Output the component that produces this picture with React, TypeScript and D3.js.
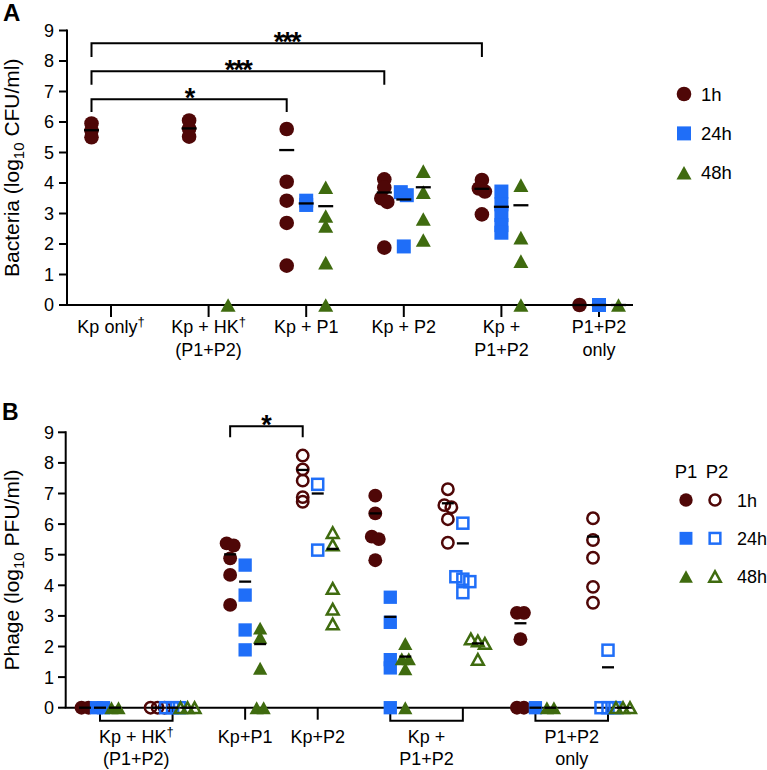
import React from "react";
import * as d3 from "d3";

const FONT = "'Liberation Sans', Arial, Helvetica, sans-serif";
const C1 = "#4f0707";
const C24 = "#1f6ef8";
const C48 = "#3f6b0f";

// ---------- Panel A data (log10 CFU/ml) ----------
const catsA = ["Kp only", "Kp + HK", "Kp + P1", "Kp + P2", "Kp + P1+P2", "P1+P2 only"];
const labelsA = [["Kp only†"], ["Kp + HK†", "(P1+P2)"], ["Kp + P1"], ["Kp + P2"], ["Kp +", "P1+P2"], ["P1+P2", "only"]];
const a1h = [[5.95, 5.72, 5.5], [6.05, 5.78, 5.52], [5.77, 4.04, 3.42, 2.69, 1.29], [4.12, 3.85, 3.5, 3.38, 1.88], [4.1, 3.82, 3.72, 2.97], [0]];
const a24h = [[], [], [3.42, 3.28], [3.7, 3.6, 1.92], [3.72, 3.3, 2.95, 2.62, 2.37], [0]];
const a48h = [[], [0], [3.86, 2.92, 2.59, 1.39, 0], [4.39, 3.7, 2.82, 2.13], [3.93, 2.21, 1.44, 0], [0]];
const a1hLine = [5.73, 5.79, 5.08, 3.69, 3.81, 0];
const a24hLine = [null, null, 3.33, 3.46, 3.22, 0];
const a48hLine = [null, null, 3.24, 3.86, 3.27, 0];
const yTicks = [0, 1, 2, 3, 4, 5, 6, 7, 8, 9];
const legendA = ["1h", "24h", "48h"];
// significance brackets A: [fromCategory, toCategory, level, drop, label]
const sigA: [number, number, number, number, string][] = [
  [0, 2, 6.75, 6.33, "*"],
  [0, 3, 7.66, 7.22, "***"],
  [0, 4, 8.58, 8.13, "***"],
];

// ---------- Panel B data (log10 PFU/ml) ----------
const catsB = ["Kp + HK (P1+P2)", "Kp+P1", "Kp+P2", "Kp + P1+P2", "P1+P2 only"];
const labelsB = [["Kp + HK†", "(P1+P2)"], ["Kp+P1"], ["Kp+P2"], ["Kp +", "P1+P2"], ["P1+P2", "only"]];
const slotP1 = [0, 2, null, 4, 6];
const slotP2 = [1, null, 3, 5, 7];
const b1hP1 = [[0, 0], [5.37, 5.3, 4.88, 4.34, 3.36], null, [6.93, 6.35, 5.59, 5.51, 4.82], [3.1, 3.1, 2.24, 0, 0]];
const b24hP1 = [[0, 0], [4.66, 3.68, 2.54, 1.89], null, [3.61, 2.79, 1.57, 1.3, 0], [0]];
const b48hP1 = [[0, 0], [2.6, 2.3, 1.29, 0, 0], null, [2.1, 1.6, 1.6, 1.27, 0], [0, 0]];
const b1hP2 = [[0, 0, 0], null, [8.24, 7.79, 7.42, 6.88, 6.73], [7.14, 6.62, 6.55, 6.16, 5.39], [6.19, 5.48, 4.9, 3.95, 3.43]];
const b24hP2 = [[0, 0, 0], null, [7.3, 5.15], [6.03, 4.28, 4.2, 4.12, 3.76], [1.88, 0, 0, 0]];
const b48hP2 = [[0, 0, 0], null, [5.72, 5.32, 3.9, 3.22, 2.74], [2.25, 2.18, 2.1, 1.58], [0, 0, 0]];
const b1hP1Line = [0, 5.01, null, 6.35, 2.76];
const b24hP1Line = [0, 4.12, null, 2.97, 0];
const b48hP1Line = [0, 2.08, null, 1.67, 0];
const b1hP2Line = [0, null, 7.77, 6.68, 5.59];
const b24hP2Line = [0, null, 7.0, 5.37, 1.32];
const b48hP2Line = [0, null, 5.19, 2.1, 0];
const legendB = ["1h", "24h", "48h"];

type Shape = "circle" | "square" | "triangle";

function spread(vals: number[], y: (v: number) => number, thr = 4, gap = 6) {
  const sorted = vals.map((v) => ({ v, py: y(v) })).sort((a, b) => a.py - b.py);
  const out: { v: number; dx: number }[] = [];
  let cl: { v: number; py: number }[] = [];
  const flush = () => {
    cl.forEach((p, k) => out.push({ v: p.v, dx: (k - (cl.length - 1) / 2) * gap }));
    cl = [];
  };
  for (const p of sorted) {
    if (cl.length && p.py - cl[cl.length - 1].py > thr) flush();
    cl.push(p);
  }
  flush();
  return out;
}

function Marker({ shape, x, y, color, open, s = 1 }: { shape: Shape; x: number; y: number; color: string; open?: boolean; s?: number }) {
  const sw = 2.5;
  if (shape === "circle") {
    return open ? (
      <circle cx={x} cy={y} r={6 * s} fill="none" stroke={color} strokeWidth={sw} />
    ) : (
      <circle cx={x} cy={y} r={7.3 * s} fill={color} />
    );
  }
  if (shape === "square") {
    const h = open ? 5.8 * s : 7 * s;
    return <rect x={x - h} y={y - h} width={2 * h} height={2 * h} fill={open ? "none" : color} stroke={open ? color : "none"} strokeWidth={open ? sw : 0} />;
  }
  const w = open ? 6.2 * s : 7.5 * s;
  const hh = open ? 5.6 * s : 6.8 * s;
  const d = `M${x},${y - hh}L${x + w},${y + hh}L${x - w},${y + hh}Z`;
  return <path d={d} fill={open ? "none" : color} stroke={open ? color : "none"} strokeWidth={open ? sw : 0} strokeLinejoin="miter" />;
}

function Label({ x, y, text, size = 18 }: { x: number; y: number; text: string; size?: number }) {
  const parts = text.split("†");
  return (
    <text x={x} y={y} textAnchor="middle" fontSize={size} fontFamily={FONT} fill="#000">
      {parts[0]}
      {parts.length > 1 ? (
        <tspan dy={-7} fontSize={13}>†</tspan>
      ) : null}
    </text>
  );
}

export default function App() {
  const W = 767, H = 770;
  const xA = d3.scalePoint<string>().domain(catsA).range([111, 599]);
  const yA = d3.scaleLinear().domain([0, 9]).range([305, 30.5]);
  const xB = d3.scaleLinear().domain([0, 7]).range([100, 608]);
  const yB = d3.scaleLinear().domain([0, 9]).range([707.7, 432.3]);
  const offA = [-19.5, 0, 19.5];
  const offB = [-15, 0, 15];
  const shapes: Shape[] = ["circle", "square", "triangle"];
  const colors = [C1, C24, C48];

  const elems: React.ReactNode[] = [];
  const lines: React.ReactNode[] = [];

  // ----- Panel A marks -----
  const seriesA = [a1h, a24h, a48h];
  const linesA = [a1hLine, a24hLine, a48hLine];
  catsA.forEach((c, gi) => {
    seriesA.forEach((ser, si) => {
      const cx = (xA(c) as number) + offA[si];
      spread(ser[gi], yA).forEach((p, k) => {
        elems.push(<Marker key={`a${gi}-${si}-${k}`} shape={shapes[si]} x={cx + p.dx} y={yA(p.v)} color={colors[si]} />);
      });
      const lv = linesA[si][gi];
      if (lv !== null && lv !== undefined) {
        lines.push(<line key={`al${gi}-${si}`} x1={cx - 7.5} x2={cx + 7.5} y1={yA(lv)} y2={yA(lv)} stroke="#000" strokeWidth={2.3} />);
      }
    });
  });

  // ----- Panel B marks -----
  const seriesP1 = [b1hP1, b24hP1, b48hP1];
  const seriesP2 = [b1hP2, b24hP2, b48hP2];
  const linesP1 = [b1hP1Line, b24hP1Line, b48hP1Line];
  const linesP2 = [b1hP2Line, b24hP2Line, b48hP2Line];
  const elemsB: React.ReactNode[] = [];
  const linesBn: React.ReactNode[] = [];
  catsB.forEach((c, gi) => {
    [
      { slot: slotP1[gi], ser: seriesP1, ln: linesP1, open: false },
      { slot: slotP2[gi], ser: seriesP2, ln: linesP2, open: true },
    ].forEach(({ slot, ser, ln, open }, pi) => {
      if (slot === null) return;
      ser.forEach((s, si) => {
        const vals = s[gi];
        if (!vals) return;
        const cx = xB(slot) + offB[si];
        spread(vals, yB, 4, 7).forEach((p, k) => {
          elemsB.push(<Marker key={`b${gi}-${pi}-${si}-${k}`} shape={shapes[si]} x={cx + p.dx} y={yB(p.v)} color={colors[si]} open={open} s={0.95} />);
        });
        const lv = ln[si][gi];
        if (lv !== null && lv !== undefined) {
          linesBn.push(<line key={`bl${gi}-${pi}-${si}`} x1={cx - 6} x2={cx + 6} y1={yB(lv)} y2={yB(lv)} stroke="#000" strokeWidth={2.3} />);
        }
      });
    });
  });

  const ax = { stroke: "#000", strokeWidth: 2, fill: "none" };

  return (
    <svg width={W} height={H} style={{ position: "absolute", left: 0, top: 0, background: "#fff" }} fontFamily={FONT}>
      {/* Panel A */}
      <text x={3} y={21} fontSize={24} fontWeight="bold">A</text>
      <line x1={67} x2={67} y1={yA(9) - 1} y2={yA(0)} {...ax} />
      <line x1={66} x2={633} y1={yA(0)} y2={yA(0)} {...ax} />
      {yTicks.map((t) => (
        <g key={`ya${t}`}>
          <line x1={59} x2={67} y1={yA(t)} y2={yA(t)} {...ax} />
          <text x={54} y={yA(t) + 6.4} textAnchor="end" fontSize={18}>{t}</text>
        </g>
      ))}
      {catsA.map((c, i) => (
        <g key={`xa${i}`}>
          <line x1={xA(c) as number} x2={xA(c) as number} y1={yA(0)} y2={yA(0) + 12} {...ax} />
          {labelsA[i].map((t, j) => (
            <Label key={j} x={xA(c) as number} y={333 + j * 22.5} text={t} />
          ))}
        </g>
      ))}
      <text transform={`translate(19,${(yA(0) + yA(9)) / 2}) rotate(-90)`} textAnchor="middle" fontSize={21}>
        Bacteria (log<tspan dy={5} fontSize={15}>10</tspan><tspan dy={-5}> CFU/ml)</tspan>
      </text>
      {sigA.map(([f, t, lvl, drop, lab], i) => {
        const x1 = (xA(catsA[f]) as number) + offA[0];
        const x2 = (xA(catsA[t]) as number) + offA[0];
        return (
          <g key={`sa${i}`}>
            <path d={`M${x1},${yA(drop)}V${yA(lvl)}H${x2}V${yA(drop)}`} {...ax} />
            <text x={(x1 + x2) / 2} y={yA(lvl) + 8} textAnchor="middle" fontSize={27} fontWeight="bold" letterSpacing={-1.8}>{lab}</text>
          </g>
        );
      })}
      {elems}
      {lines}
      {legendA.map((l, i) => (
        <g key={`la${i}`}>
          <Marker shape={shapes[i]} x={684} y={94 + i * 39.4} color={colors[i]} />
          <text x={701} y={94 + i * 39.4 + 6.6} fontSize={18.5}>{l}</text>
        </g>
      ))}

      {/* Panel B */}
      <text x={2} y={420} fontSize={23} fontWeight="bold">B</text>
      <line x1={65.7} x2={65.7} y1={yB(9) - 1} y2={yB(0)} {...ax} />
      <line x1={64.7} x2={633} y1={yB(0)} y2={yB(0)} {...ax} />
      {yTicks.map((t) => (
        <g key={`yb${t}`}>
          <line x1={58} x2={65.7} y1={yB(t)} y2={yB(t)} {...ax} />
          <text x={54} y={yB(t) + 6.4} textAnchor="end" fontSize={18}>{t}</text>
        </g>
      ))}
      {catsB.map((c, i) => {
        const p1 = slotP1[i];
        const p2 = slotP2[i];
        let cx: number;
        let mark: React.ReactNode;
        if (p1 !== null && p2 !== null) {
          const x1 = xB(p1), x2 = xB(p2);
          cx = (x1 + x2) / 2;
          mark = <path d={`M${x1},${yB(0)}V${yB(0) + 13}H${x2}V${yB(0)}`} {...ax} />;
        } else {
          cx = xB((p1 ?? p2) as number);
          mark = <line x1={cx} x2={cx} y1={yB(0)} y2={yB(0) + 12} {...ax} />;
        }
        return (
          <g key={`xb${i}`}>
            {mark}
            {labelsB[i].map((t, j) => (
              <Label key={j} x={cx} y={742.5 + j * 22.5} text={t} />
            ))}
          </g>
        );
      })}
      <text transform={`translate(19,${(yB(0) + yB(9)) / 2}) rotate(-90)`} textAnchor="middle" fontSize={21}>
        Phage (log<tspan dy={5} fontSize={15}>10</tspan><tspan dy={-5}> PFU/ml)</tspan>
      </text>
      {(() => {
        const x1 = xB(2) + offB[0];
        const x2 = xB(3) + offB[0];
        return (
          <g>
            <path d={`M${x1},${yB(8.84)}V${yB(9.2)}H${x2}V${yB(8.84)}`} {...ax} />
            <text x={(x1 + x2) / 2} y={yB(9.2) + 8} textAnchor="middle" fontSize={27} fontWeight="bold">*</text>
          </g>
        );
      })()}
      {elemsB}
      {linesBn}
      <text x={686} y={478} textAnchor="middle" fontSize={18.5}>P1</text>
      <text x={717} y={478} textAnchor="middle" fontSize={18.5}>P2</text>
      {legendB.map((l, i) => (
        <g key={`lb${i}`}>
          <Marker shape={shapes[i]} x={686} y={500 + i * 38.3} color={colors[i]} s={0.92} />
          <Marker shape={shapes[i]} x={715} y={500 + i * 38.3} color={colors[i]} open s={0.92} />
          <text x={737} y={500 + i * 38.3 + 6.6} fontSize={18}>{l}</text>
        </g>
      ))}
    </svg>
  );
}
